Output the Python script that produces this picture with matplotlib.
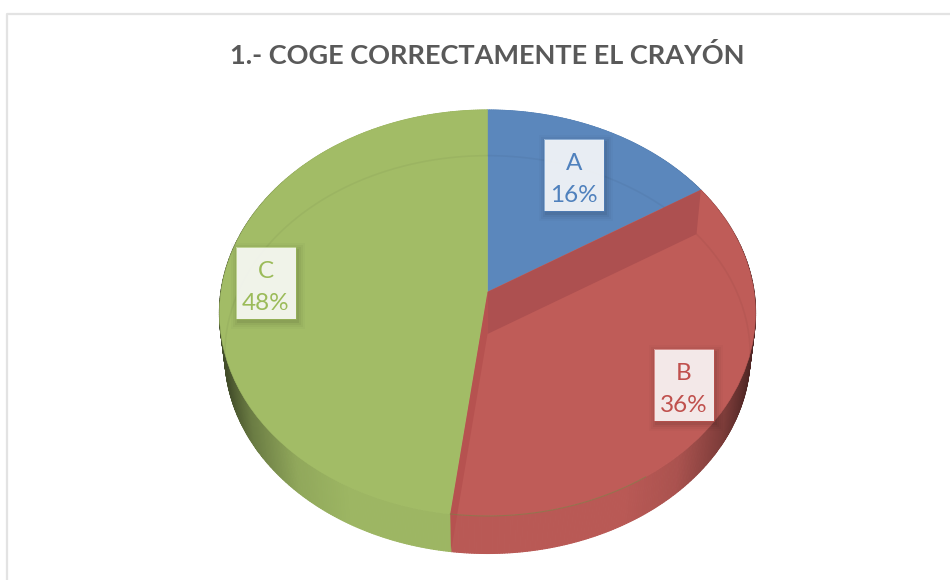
import matplotlib
matplotlib.use('Agg')
import matplotlib.pyplot as plt
import numpy as np
from matplotlib.collections import PolyCollection
from matplotlib.colors import to_rgb
from matplotlib.patches import Polygon, Rectangle
from matplotlib.transforms import Transform

plt.rcParams['font.family'] = ['Lato', 'DejaVu Sans']

title = '1.- COGE CORRECTAMENTE EL CRAYÓN'
labels = ['A', 'B', 'C']
shares = [16, 36, 48]
colors = ['#5b87bc', '#bf5c58', '#a2bc66']
text_colors = ['#4f81bd', '#c0504d', '#9bbb59']
band_color = '#ad5050'

# pixel position of the pie (apex, scale, tilt of the 3D view)
CX, CY = 487.5, 292
SX, SY = 266.6, 200.8
K = 0.1034
DROP = 42
BASE_SCALE = 0.98

# label boxes: left, top in pixels
box_pos = [(544, 139), (654, 349), (236, 247)]
BOX_W, BOX_H = 60, 72


class Perspective(Transform):
    """Tilted view of the unit circle, result is in pixels."""
    input_dims = 2
    output_dims = 2

    def __init__(self, drop=0.0, scale=1.0):
        super().__init__()
        self.drop = drop
        self.scale = scale

    def transform_non_affine(self, values):
        u, v = np.asarray(values, dtype=float).T
        d = 1 + K * v
        return np.column_stack((CX + self.scale * SX * u / d,
                                CY + self.drop - self.scale * SY * v / d))


def rim(theta, drop=0.0, scale=1.0):
    # theta in degrees, clockwise from the top
    t = np.radians(theta)
    pts = np.column_stack((np.sin(t), np.cos(t)))
    return Perspective(drop, scale).transform_non_affine(pts)


def wall_shade(x):
    # the side of the pie gets dark towards both ends
    u = np.abs(x - CX) / 268
    return np.interp(u, [0, 0.5, 0.7, 0.87, 0.97], [1, 1, 0.92, 0.68, 0.42])


fig = plt.figure(figsize=(9.5, 5.8), dpi=100)
ax = fig.add_axes([0, 0, 1, 1])

wedges, _ = ax.pie(shares, colors=colors, startangle=90, counterclock=False,
                   wedgeprops={'linewidth': 0})
ax.set_aspect('auto')
ax.set_xlim(0, 950)
ax.set_ylim(580, 0)
ax.set_axis_off()

top = Perspective() + ax.transData
for w, c in zip(wedges, colors):
    w.set_transform(top)
    w.set_clip_on(False)
    w.set_zorder(3)
    w.set_edgecolor(c)
    w.set_linewidth(0.4)

# chart frame
ax.plot([7, 7, 950], [580, 14, 14], color='#e3e3e3', lw=1.6, zorder=1)

cuts = np.cumsum([0] + shares) / sum(shares) * 360

# side wall of the pie
for i, c in enumerate(colors):
    steps = np.arange(cuts[i], cuts[i + 1] + 0.5, 0.5)
    steps[-1] = cuts[i + 1]
    up = rim(steps)
    down = rim(steps, DROP, BASE_SCALE)
    verts, cols = [], []
    for j in range(len(steps) - 1):
        verts.append([up[j], up[j + 1], down[j + 1], down[j]])
        cols.append(tuple(np.array(to_rgb(c)) * 0.97 * wall_shade(down[j][0])))
    ax.add_collection(PolyCollection(verts, facecolors=cols, edgecolors=cols,
                                     linewidths=0.8, zorder=2))

# faint ring of the base seen through the top
for i, w in enumerate(wedges):
    steps = np.arange(cuts[i], cuts[i + 1] + 1, 1.0)
    ring = rim(steps, DROP, BASE_SCALE)
    line, = ax.plot(ring[:, 0], ring[:, 1], color='black', alpha=0.04, lw=1.2, zorder=4)
    line.set_clip_path(w)

# darker inner faces of the red slice
apex = np.array([[CX, CY]])
apex_low = np.array([[CX, CY + DROP]])
p1 = rim(np.array([cuts[1]]))
p1_low = rim(np.array([cuts[1]]), DROP, BASE_SCALE)
ax.add_patch(Polygon(np.vstack((apex, p1, p1_low, apex_low)), closed=True,
                     facecolor=band_color, edgecolor='none', zorder=5))
p2 = rim(np.array([cuts[2]]))
p2_low = rim(np.array([cuts[2]]), DROP, BASE_SCALE)
ax.add_patch(Polygon(np.vstack((apex, p2, p2_low, apex_low)), closed=True,
                     facecolor='#b65250', edgecolor='none', zorder=5))
# thin seam where the top ends at the front
front = rim(np.arange(cuts[2] - 40, cuts[2] + 1, 1.0))
ax.plot(front[:, 0], front[:, 1], color='#6f8a45', alpha=0.5, lw=0.8, zorder=5)

# labels
for i, (x0, y0) in enumerate(box_pos):
    for grow, a in [(7, 0.02), (5, 0.03), (3, 0.04), (1, 0.06)]:
        ax.add_patch(Rectangle((x0 - grow + 2, y0 - grow + 3), BOX_W + 2 * grow, BOX_H + 2 * grow,
                               facecolor='black', edgecolor='none', alpha=a, zorder=6))
    ax.add_patch(Rectangle((x0, y0), BOX_W, BOX_H, facecolor='white', alpha=0.88,
                           edgecolor='none', zorder=7))
    ax.add_patch(Rectangle((x0, y0), BOX_W, BOX_H, facecolor='none', edgecolor=text_colors[i],
                           lw=0.6, alpha=0.7, zorder=7))
    ax.text(x0 + BOX_W / 2, y0 + 24, labels[i], color=text_colors[i], fontsize=17.5,
            ha='center', va='center', zorder=8)
    ax.text(x0 + BOX_W / 2, y0 + 57, f'{shares[i]}%', color=text_colors[i], fontsize=17.5,
            ha='center', va='center', zorder=8)

ax.text(487, 55, title, color='#595959', fontsize=19.5, fontweight='bold',
        ha='center', va='center', zorder=8)

fig.savefig('out.png', dpi=100, facecolor='white')
